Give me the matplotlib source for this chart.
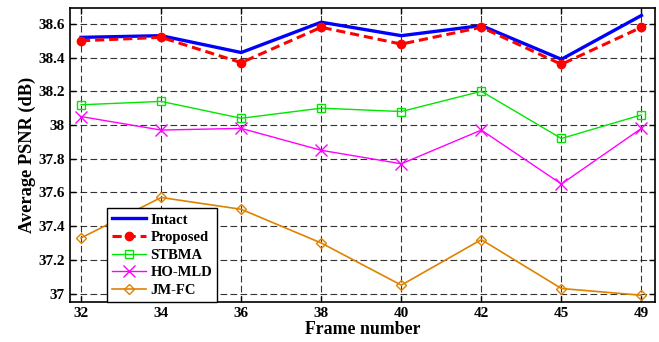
import matplotlib
matplotlib.use("Agg")
import matplotlib.pyplot as plt
from matplotlib.ticker import FuncFormatter

# frame numbers are placed at equal spacing (categorical axis)
frames = ["32", "34", "36", "38", "40", "42", "45", "49"]

intact = [38.52, 38.53, 38.43, 38.61, 38.53, 38.59, 38.39, 38.65]
proposed = [38.50, 38.52, 38.37, 38.58, 38.48, 38.58, 38.36, 38.58]
stbma = [38.12, 38.14, 38.04, 38.10, 38.08, 38.20, 37.92, 38.06]
ho_mld = [38.05, 37.97, 37.98, 37.85, 37.77, 37.97, 37.65, 37.98]
jm_fc = [37.33, 37.57, 37.50, 37.30, 37.05, 37.32, 37.03, 36.99]

plt.rcParams["font.family"] = ["Liberation Serif", "DejaVu Serif"]
plt.rcParams["font.weight"] = "bold"

fig = plt.figure(figsize=(6.59, 3.42), dpi=100)
ax = fig.add_axes([0.106, 0.117, 0.888, 0.860])

x = list(range(len(frames)))

ax.plot(x, intact, color="#0000FF", linewidth=2.4, label="Intact")
ax.plot(x, proposed, color="#FF0000", linewidth=2.2, linestyle=(0, (3, 1.6)),
        marker="o", markersize=6, label="Proposed")
ax.plot(x, stbma, color="#00E600", linewidth=1.0, marker="s", markersize=6,
        markerfacecolor="none", markeredgewidth=1.0, label="STBMA")
ax.plot(x, ho_mld, color="#FF00FF", linewidth=1.0, marker="x", markersize=8,
        markeredgewidth=1.0, label="HO-MLD")
ax.plot(x, jm_fc, color="#DE8200", linewidth=1.2, marker="D", markersize=5.5,
        markerfacecolor="none", markeredgewidth=1.0, label="JM-FC")

ax.set_xlim(-0.14, 7.17)
ax.set_ylim(36.95, 38.695)
ax.set_xticks(x)
ax.set_xticklabels(frames)
ax.set_yticks([37, 37.2, 37.4, 37.6, 37.8, 38, 38.2, 38.4, 38.6])
ax.yaxis.set_major_formatter(FuncFormatter(lambda v, p: f"{v:.1f}".rstrip("0").rstrip(".")))

ax.grid(True, color="black", linestyle=(0, (6, 3)), linewidth=0.8, alpha=0.8)
ax.tick_params(direction="in", labelsize=11, length=4, width=1.0,
               right=True, top=True)
for lab in ax.get_xticklabels() + ax.get_yticklabels():
    lab.set_fontweight("bold")
for s in ax.spines.values():
    s.set_linewidth(1.2)

ax.set_xlabel("Frame number", fontsize=12.8, fontweight="bold", labelpad=1)
ax.set_ylabel("Average PSNR (dB)", fontsize=13.2, fontweight="bold", labelpad=2)

leg = ax.legend(loc="lower left", bbox_to_anchor=(0.064, 0.0), fontsize=10.5,
                frameon=True, fancybox=False, framealpha=1, edgecolor="black",
                borderpad=0.35, labelspacing=0.3, handlelength=2.3,
                handletextpad=0.3, borderaxespad=0)
leg.get_frame().set_linewidth(1.0)
for t in leg.get_texts():
    t.set_fontweight("bold")

fig.savefig("out.png", dpi=100)
